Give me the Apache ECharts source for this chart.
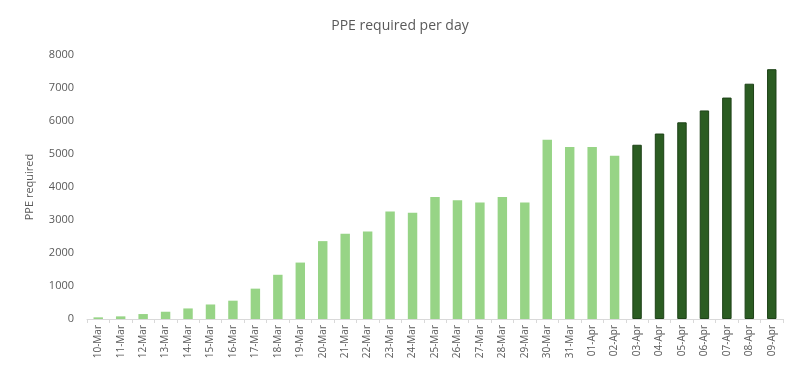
<!DOCTYPE html>
<html>
<head>
<meta charset="utf-8">
<script src="https://cdn.jsdelivr.net/npm/echarts@6/dist/echarts.min.js"></script>
<style>
  html, body { margin: 0; padding: 0; background: #fff; }
  #main { width: 800px; height: 383px; }
</style>
</head>
<body>
<div id="main"></div>
<script>
// days on the x axis
const days = [
  '10-Mar', '11-Mar', '12-Mar', '13-Mar', '14-Mar', '15-Mar', '16-Mar', '17-Mar',
  '18-Mar', '19-Mar', '20-Mar', '21-Mar', '22-Mar', '23-Mar', '24-Mar', '25-Mar',
  '26-Mar', '27-Mar', '28-Mar', '29-Mar', '30-Mar', '31-Mar', '01-Apr', '02-Apr',
  '03-Apr', '04-Apr', '05-Apr', '06-Apr', '07-Apr', '08-Apr', '09-Apr'
];
// PPE required, observed (10-Mar .. 02-Apr)
const observed = [
  50, 80, 150, 220, 320, 440, 555, 920,
  1340, 1710, 2360, 2580, 2650, 3260, 3220, 3700,
  3600, 3530, 3700, 3530, 5430, 5210, 5210, 4950
];
// PPE required, projected (03-Apr .. 09-Apr)
const projected = [5280, 5620, 5960, 6320, 6710, 7130, 7570];

const yTicks = { min: 0, max: 8000, interval: 1000 };

const lightGreen = '#97d486';
const darkGreen = '#2b5c22';

const observedData = days.map((d, i) => (i < observed.length ? observed[i] : '-'));
const projectedData = days.map((d, i) =>
  i >= observed.length ? projected[i - observed.length] : '-');

const chart = echarts.init(document.getElementById('main'));
chart.setOption({
  animation: false,
  textStyle: { fontFamily: 'Open Sans, sans-serif' },
  title: {
    text: 'PPE required per day',
    left: 'center',
    top: 14,
    textStyle: { fontSize: 14, fontWeight: 'normal', color: '#595959' }
  },
  grid: { left: 87, right: 17, top: 55, bottom: 64 },
  xAxis: {
    type: 'category',
    data: days,
    axisLine: { lineStyle: { color: '#d9d9d9' } },
    axisTick: { show: true, alignWithLabel: false, length: 4, lineStyle: { color: '#d9d9d9' } },
    axisLabel: { rotate: 90, fontSize: 10, color: '#595959', margin: 6, interval: 0 }
  },
  yAxis: {
    type: 'value',
    min: yTicks.min,
    max: yTicks.max,
    interval: yTicks.interval,
    name: 'PPE required',
    nameLocation: 'middle',
    nameGap: 52,
    nameTextStyle: { fontSize: 11, color: '#595959' },
    axisLine: { show: false },
    axisTick: { show: false },
    splitLine: { show: false },
    axisLabel: { fontSize: 11, color: '#595959', margin: 13, formatter: (v) => String(v) }
  },
  series: [
    {
      name: 'Observed',
      type: 'bar',
      data: observedData,
      barWidth: '42%',
      barGap: '-100%',
      itemStyle: { color: lightGreen }
    },
    {
      name: 'Projected',
      type: 'bar',
      data: projectedData,
      barWidth: '42%',
      barGap: '-100%',
      itemStyle: { color: darkGreen, borderColor: '#1d4217', borderWidth: 1 }
    }
  ]
});
</script>
</body>
</html>
